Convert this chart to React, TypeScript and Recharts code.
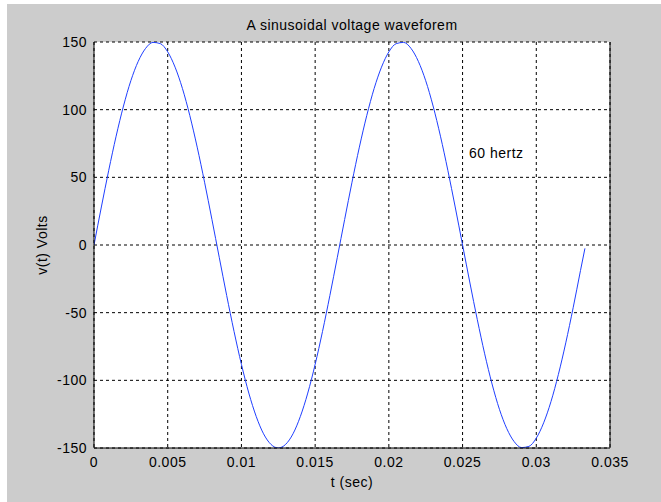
import React from 'react';
import { LineChart, Line, XAxis, YAxis, CartesianGrid, ReferenceLine, ReferenceDot } from 'recharts';

// time samples (sec)
const timeValues: number[] = [
  0, 0.0005, 0.001, 0.0015, 0.002, 0.0025, 0.003, 0.0035, 0.004, 0.0045,
  0.005, 0.0055, 0.006, 0.0065, 0.007, 0.0075, 0.008, 0.0085, 0.009, 0.0095,
  0.01, 0.0105, 0.011, 0.0115, 0.012, 0.0125, 0.013, 0.0135, 0.014, 0.0145,
  0.015, 0.0155, 0.016, 0.0165, 0.017, 0.0175, 0.018, 0.0185, 0.019, 0.0195,
  0.02, 0.0205, 0.021, 0.0215, 0.022, 0.0225, 0.023, 0.0235, 0.024, 0.0245,
  0.025, 0.0255, 0.026, 0.0265, 0.027, 0.0275, 0.028, 0.0285, 0.029, 0.0295,
  0.03, 0.0305, 0.031, 0.0315, 0.032, 0.0325, 0.033, 0.0333,
];

// voltage (Volts)
const voltageValues: number[] = [
  0, 28.1, 55.2, 80.4, 102.7, 121.4, 135.7, 145.3, 149.7, 148.8,
  142.7, 131.4, 115.6, 95.6, 72.3, 46.4, 18.8, -9.4, -37.3, -63.9,
  -88.2, -109.4, -126.6, -139.5, -147.3, -150, -147.3, -139.5, -126.6, -109.4,
  -88.2, -63.9, -37.3, -9.4, 18.8, 46.4, 72.3, 95.6, 115.6, 131.4,
  142.7, 148.8, 149.7, 145.3, 135.7, 121.4, 102.7, 80.4, 55.2, 28.1,
  0, -28.1, -55.2, -80.4, -102.7, -121.4, -135.7, -145.3, -149.7, -148.8,
  -142.7, -131.4, -115.6, -95.6, -72.3, -46.4, -18.8, -2.5,
];

const xTicks: number[] = [0, 0.005, 0.01, 0.015, 0.02, 0.025, 0.03, 0.035];
const yTicks: number[] = [-150, -100, -50, 0, 50, 100, 150];

const titleText = 'A sinusoidal voltage waveforem';
const xLabelText = 't (sec)';
const yLabelText = 'v(t) Volts';
const annotation = { t: 0.0255, v: 68, text: '60 hertz' };

const data = timeValues.map((t, i) => ({ t, v: voltageValues[i] }));

const FONT = '"Liberation Sans", Arial, Helvetica, sans-serif';
const textStyle = { fontFamily: FONT, fontSize: 14, fill: '#000', letterSpacing: 0.5 };

export default function App() {
  return (
    <div style={{ position: 'absolute', left: 0, top: 0, width: 661, height: 502, background: '#ffffff', overflow: 'hidden' }}>
      <div style={{ position: 'absolute', left: 7, top: 4, width: 654, height: 498, background: '#cccccc' }}>
        <div
          style={{
            position: 'absolute',
            left: 87,
            width: 516,
            top: 13,
            textAlign: 'center',
            fontFamily: FONT,
            fontSize: 14,
            letterSpacing: 0.5,
            color: '#000',
            lineHeight: '16px',
          }}
        >
          {titleText}
        </div>
        <div style={{ position: 'absolute', left: 0, top: 0 }}>
          <LineChart width={654} height={498} data={data} margin={{ top: 38, right: 51, left: 0, bottom: 0 }}>
            <CartesianGrid
              fill="#ffffff"
              stroke="#000000"
              strokeDasharray="3 3"
              verticalValues={xTicks}
              horizontalValues={yTicks}
            />
            <XAxis
              dataKey="t"
              type="number"
              domain={[0, 0.035]}
              ticks={xTicks}
              tickFormatter={(v: number) => String(v)}
              height={54}
              axisLine={{ stroke: '#000' }}
              tickLine={false}
              tick={textStyle}
              tickMargin={3}
              allowDataOverflow
              label={{
                content: (props: any) => {
                  const vb = props.viewBox || {};
                  return (
                    <text
                      x={vb.x + vb.width / 2}
                      y={483}
                      textAnchor="middle"
                      style={textStyle as any}
                    >
                      {xLabelText}
                    </text>
                  );
                },
              }}
            />
            <YAxis
              type="number"
              domain={[-150, 150]}
              ticks={yTicks}
              width={87}
              axisLine={{ stroke: '#000' }}
              tickLine={false}
              tick={textStyle}
              tickMargin={1}
              allowDataOverflow
              label={{
                content: (props: any) => {
                  const vb = props.viewBox || {};
                  const cx = 35;
                  const cy = vb.y + vb.height / 2;
                  return (
                    <text
                      x={cx}
                      y={cy}
                      textAnchor="middle"
                      dominantBaseline="central"
                      transform={`rotate(-90 ${cx} ${cy})`}
                      style={textStyle as any}
                    >
                      {yLabelText}
                    </text>
                  );
                },
              }}
            />
            <ReferenceLine x={0.035} stroke="#000" strokeWidth={1} />
            <ReferenceDot
              x={annotation.t}
              y={annotation.v}
              r={1}
              fill="none"
              stroke="none"
              label={{
                content: (props: any) => {
                  const vb = props.viewBox || {};
                  return (
                    <text
                      x={vb.x}
                      y={vb.y + (vb.height || 0) / 2}
                      textAnchor="start"
                      dominantBaseline="central"
                      style={textStyle as any}
                    >
                      {annotation.text}
                    </text>
                  );
                },
              }}
            />
            <Line
              type="monotone"
              dataKey="v"
              stroke="#1f3fff"
              strokeWidth={1}
              dot={false}
              isAnimationActive={false}
            />
          </LineChart>
        </div>
      </div>
    </div>
  );
}
